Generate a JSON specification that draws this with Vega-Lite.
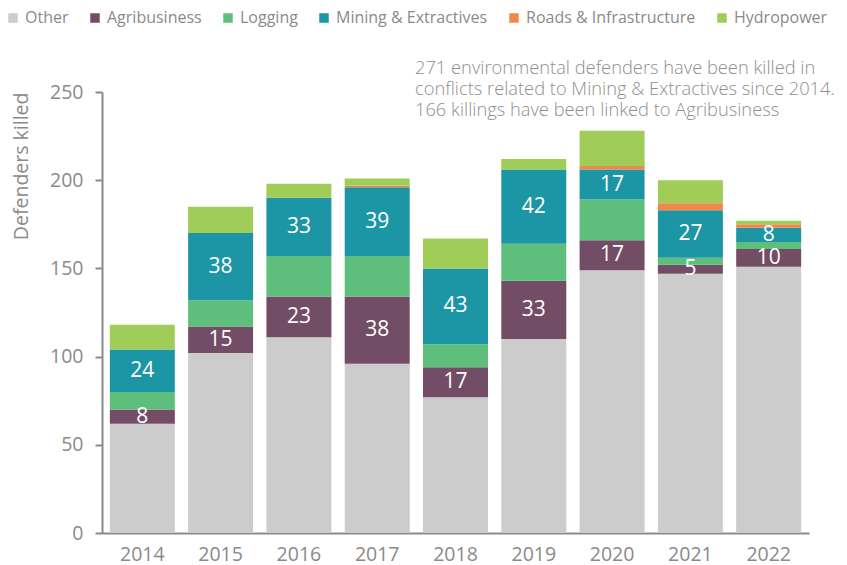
{
  "$schema": "https://vega.github.io/schema/vega-lite/v6.json",
  "width": 707,
  "height": 441,
  "autosize": "none",
  "padding": {"left": 102, "top": 92, "right": 38, "bottom": 32},
  "background": "white",
  "config": {
    "font": "Open Sans",
    "view": {"stroke": null},
    "axis": {"labelColor": "#8a8a8a", "titleColor": "#8a8a8a", "domainColor": "#8a8a8a", "tickColor": "#8a8a8a", "grid": false, "labelFont": "Open Sans", "titleFont": "Open Sans"}
  },
  "title": {
    "text": ["271 environmental defenders have been killed in", "conflicts related to Mining & Extractives since 2014.", "166 killings have been linked to Agribusiness"],
    "anchor": "start",
    "frame": "group",
    "align": "left",
    "baseline": "top",
    "orient": "top",
    "offset": -31,
    "dx": 313,
    "dy": 79,
    "fontSize": 18.3,
    "fontWeight": 300,
    "color": "#8f8f8f",
    "lineHeight": 21,
    "font": "Open Sans"
  },
  "data": {"values": [
    {"year": "2014", "category": "Other", "value": 62},
    {"year": "2014", "category": "Agribusiness", "value": 8},
    {"year": "2014", "category": "Logging", "value": 10},
    {"year": "2014", "category": "Mining & Extractives", "value": 24},
    {"year": "2014", "category": "Hydropower", "value": 14},
    {"year": "2015", "category": "Other", "value": 102},
    {"year": "2015", "category": "Agribusiness", "value": 15},
    {"year": "2015", "category": "Logging", "value": 15},
    {"year": "2015", "category": "Mining & Extractives", "value": 38},
    {"year": "2015", "category": "Hydropower", "value": 15},
    {"year": "2016", "category": "Other", "value": 111},
    {"year": "2016", "category": "Agribusiness", "value": 23},
    {"year": "2016", "category": "Logging", "value": 23},
    {"year": "2016", "category": "Mining & Extractives", "value": 33},
    {"year": "2016", "category": "Hydropower", "value": 8},
    {"year": "2017", "category": "Other", "value": 96},
    {"year": "2017", "category": "Agribusiness", "value": 38},
    {"year": "2017", "category": "Logging", "value": 23},
    {"year": "2017", "category": "Mining & Extractives", "value": 39},
    {"year": "2017", "category": "Roads & Infrastructure", "value": 1},
    {"year": "2017", "category": "Hydropower", "value": 4},
    {"year": "2018", "category": "Other", "value": 77},
    {"year": "2018", "category": "Agribusiness", "value": 17},
    {"year": "2018", "category": "Logging", "value": 13},
    {"year": "2018", "category": "Mining & Extractives", "value": 43},
    {"year": "2018", "category": "Hydropower", "value": 17},
    {"year": "2019", "category": "Other", "value": 110},
    {"year": "2019", "category": "Agribusiness", "value": 33},
    {"year": "2019", "category": "Logging", "value": 21},
    {"year": "2019", "category": "Mining & Extractives", "value": 42},
    {"year": "2019", "category": "Hydropower", "value": 6},
    {"year": "2020", "category": "Other", "value": 149},
    {"year": "2020", "category": "Agribusiness", "value": 17},
    {"year": "2020", "category": "Logging", "value": 23},
    {"year": "2020", "category": "Mining & Extractives", "value": 17},
    {"year": "2020", "category": "Roads & Infrastructure", "value": 2},
    {"year": "2020", "category": "Hydropower", "value": 20},
    {"year": "2021", "category": "Other", "value": 147},
    {"year": "2021", "category": "Agribusiness", "value": 5},
    {"year": "2021", "category": "Logging", "value": 4},
    {"year": "2021", "category": "Mining & Extractives", "value": 27},
    {"year": "2021", "category": "Roads & Infrastructure", "value": 4},
    {"year": "2021", "category": "Hydropower", "value": 13},
    {"year": "2022", "category": "Other", "value": 151},
    {"year": "2022", "category": "Agribusiness", "value": 10},
    {"year": "2022", "category": "Logging", "value": 4},
    {"year": "2022", "category": "Mining & Extractives", "value": 8},
    {"year": "2022", "category": "Roads & Infrastructure", "value": 2},
    {"year": "2022", "category": "Hydropower", "value": 2}
  ]},
  "transform": [
    {"window": [{"op": "row_number", "as": "stackOrder"}], "groupby": ["year"]}
  ],
  "encoding": {
    "x": {
      "field": "year", "type": "nominal",
      "scale": {"paddingInner": 0.17, "paddingOuter": 0.1},
      "axis": {"title": null, "labelAngle": 0, "labelFontSize": 19.5, "labelPadding": 12, "ticks": false, "domainWidth": 2}
    },
    "y": {
      "field": "value", "type": "quantitative", "stack": "zero",
      "scale": {"domain": [0, 250], "nice": false},
      "axis": {"title": "Defenders  killed", "titleAnchor": "end", "values": [0, 50, 100, 150, 200, 250], "labelFontSize": 19.5, "titleFontSize": 19.5, "titleFontWeight": "normal", "titlePadding": 18, "labelPadding": 12, "tickSize": 7, "tickWidth": 2, "domainWidth": 2}
    },
    "order": {"field": "stackOrder", "type": "quantitative", "sort": "ascending"}
  },
  "layer": [
    {
      "mark": {"type": "bar"},
      "encoding": {
        "color": {
          "field": "category", "type": "nominal",
          "scale": {
            "domain": ["Other", "Agribusiness", "Logging", "Mining & Extractives", "Roads & Infrastructure", "Hydropower"],
            "range": ["#cccccc", "#734c65", "#5ebf7c", "#1c95a5", "#f0884a", "#a0cc58"]
          },
          "legend": {
            "title": null, "orient": "none", "legendX": -97, "legendY": -82, "direction": "horizontal",
            "symbolType": "square", "symbolSize": 90, "symbolStrokeWidth": 0, "labelLimit": 0,
            "labelFontSize": 16, "labelColor": "#8a8a8a", "labelFont": "Open Sans", "columnPadding": 18, "labelOffset": 4
          }
        }
      }
    },
    {
      "mark": {"type": "text", "fontSize": 21, "fontWeight": 500, "baseline": "middle", "font": "Open Sans", "color": "white"},
      "encoding": {
        "y": {"field": "value", "type": "quantitative", "stack": "zero", "bandPosition": 0.5},
        "detail": {"field": "category", "type": "nominal"},
        "text": {
          "condition": {"test": "datum.category === 'Agribusiness' || datum.category === 'Mining & Extractives'", "field": "value", "type": "quantitative"},
          "value": ""
        }
      }
    }
  ]
}
